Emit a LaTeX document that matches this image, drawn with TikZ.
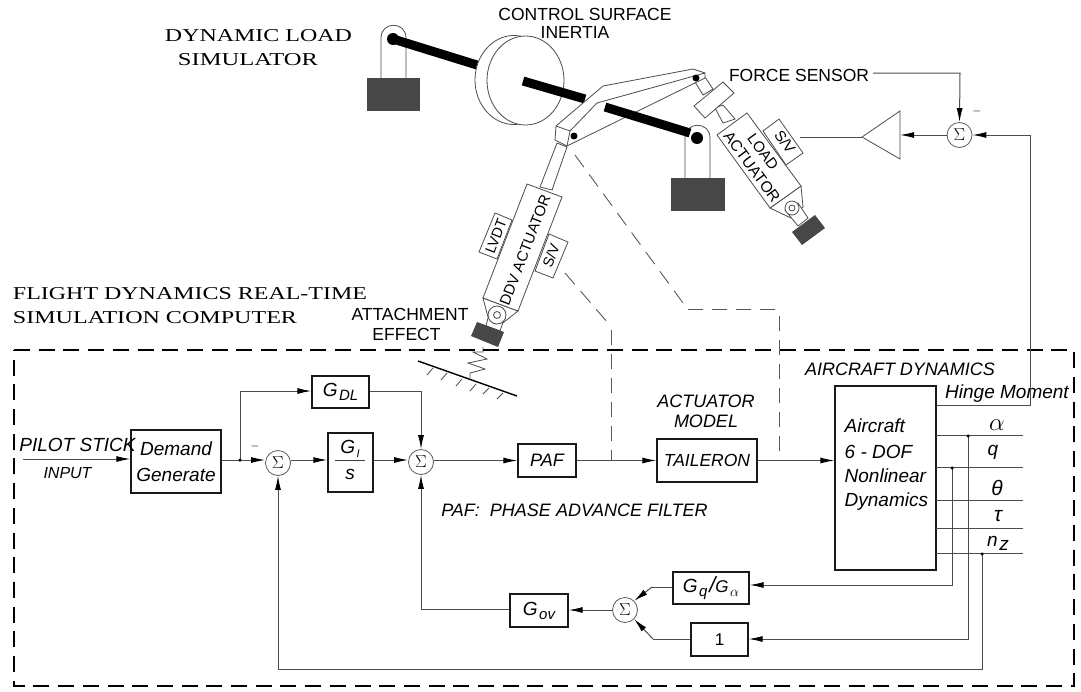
\documentclass[tikz,border=0pt]{standalone}
\usepackage{fontspec}
\usepackage{graphicx}
\setmainfont{Liberation Sans}
\newfontfamily\serifwide{Liberation Serif}
\usetikzlibrary{arrows.meta,calc}
\newcommand{\fz}[1]{\fontsize{#1}{#1}\selectfont}
\newcommand{\Gs}[2]{{\itshape\fz{19}#1\kern1.5pt\raisebox{-4pt}{\fz{15}#2}}}
\newcommand{\wide}[3]{\resizebox{#1pt}{#2pt}{\serifwide #3}}
\tikzset{
  wire/.style={draw=black!70,line width=1pt},
  sig/.style={wire,-{Latex[length=14pt,width=6pt,color=black]}},
  dashwire/.style={draw=black!65,line width=.9pt,dash pattern=on 15pt off 9pt},
  bx/.style={draw=black!90,line width=1.3pt,inner sep=0pt,align=center,anchor=center},
  sumn/.style={circle,draw=black!65,line width=.8pt,fill=white,minimum size=25pt,inner sep=0pt,font=\fz{18}},
  mech/.style={draw=black!70,line width=.8pt,fill=white},
  mechline/.style={draw=black!70,line width=.8pt},
  shaft/.style={draw=black,line width=9pt},
  weight/.style={fill=black!72},
  sf/.style={inner sep=0pt,font=\fz{17.5}},
  si/.style={inner sep=0pt,font=\fz{19}\itshape},
  rt/.style={inner sep=0pt,font=\fz{15}},
  frameline/.style={draw=black,line width=2.8pt,dash pattern=on 16pt off 8.7pt},
  dotn/.style={circle,fill=black,inner sep=0pt,minimum size=3.5pt}
}
\begin{document}
\begin{tikzpicture}[x=1pt,y=-1pt]
\useasboundingbox (0,0) rectangle (1081,691);
% ---------- mechanism: left clevis & inertia
\draw[mech] (381,78) -- (381,38) .. controls (381,21) and (406,21) .. (406,38) -- (406,78);
\fill[weight] (367,78) rectangle (420,111);
\draw[shaft] (393,39) -- (477,65);
\fill (393,39) circle (6pt);
\draw[mech] (514,80) ellipse [x radius=39pt,y radius=44.5pt];
\draw[mech] (525.5,80.5) ellipse [x radius=38.5pt,y radius=44.5pt];
\draw[shaft] (523,81) -- (585,99);
% right clevis
\draw[mech] (685,178) -- (685,138) .. controls (685,121) and (710,121) .. (710,138) -- (710,178);
\fill[weight] (671,178) rectangle (725,211);
% force sensor rods
\draw[mech] (695,82) -- (703,95) -- (713,89) -- (705,77) -- cycle;
\draw[mech] (715,108) -- (723,123) -- (735,119) -- (723,105) -- cycle;
\draw[mech] (723,82) -- (734,93) -- (705,118) -- (694,106) -- cycle;
% lever
\draw[mech] (556,126) -- (603,86) -- (693,69) -- (705,73) -- (705,78) -- (567,146) -- (555,140) -- cycle;
\draw[mechline] (556,126) -- (570,131) -- (567,146);
\draw[mechline] (570,131) -- (597,103) -- (705,73);
\draw[shaft] (605,107) -- (690,133);
\fill (697,138) circle (6pt);
\fill (574,136) circle (3.5pt);
\fill (696,78) circle (3.5pt);
% DDV actuator
\draw[mech] (557,143) -- (540,187) -- (552,190) -- (567,147) -- cycle;
\draw[mech] (483,298) -- (488,317) -- (499,326) -- (518,311) -- cycle;
\draw[mech] (488,318) -- (486,326) -- (500,331) -- (505,316) -- cycle;
\draw[mech] (497,315) circle (9pt);
\draw[mech] (497,315) circle (3.5pt);
\draw[mech] (527,184) -- (562,197) -- (518,311) -- (483,298) -- cycle;
\draw[mech] (495,213) -- (512,220) -- (497,259) -- (479,252) -- cycle;
\draw[mech] (549,234) -- (568,242) -- (553,278) -- (535,271) -- cycle;
\fill[weight] (477,322) -- (504,332) -- (498,347) -- (471,336) -- cycle;
\node[rt,rotate=68.9] (ddvtext) at (525,250) {DDV ACTUATOR};
\node[rt,rotate=68.9,font=\fz{14.5}] (lvdt) at (496,236) {LVDT};
\node[rt,rotate=68.9,font=\fz{14.5}] (sv1) at (551,256) {S/V};
% spring & ground
\draw[mechline] (483,347) -- (483,352) -- (473,352) -- (487,359) -- (468,363) -- (485,369) -- (470,373) -- (470,378);
\draw[draw=black,line width=1.4pt] (418,361) -- (517,396);
\foreach \a/\b/\c/\d in {433/368/427/375,447/373/441/380,462/379/456/386,476/384/470/391,489/388/483/394,503/393/497/399}
  \draw[mechline] (\a,\b) -- (\c,\d);
% Load actuator
\draw[mech] (801,186) -- (803,207) -- (791,218) -- (770,208) -- cycle;
\draw[mech] (785,210) -- (798,226) -- (808,218) -- (798,203) -- cycle;
\draw[mech] (792,208) circle (7pt);
\draw[mech] (792,208) circle (3pt);
\draw[mech] (747,113) -- (801,186) -- (770,208) -- (717,135) -- cycle;
\draw[mech] (779,119) -- (803,153) -- (786,165) -- (763,131) -- cycle;
\fill[weight] (815,215) -- (825,228) -- (802,245) -- (792,232) -- cycle;
\node[rt,rotate=-53.5] (loadt) at (763,152) {LOAD};
\node[rt,rotate=-53.5,font=\fz{15.5}] (actt) at (752,167) {ACTUATOR};
\node[rt,rotate=-53.5] (sv2) at (785,142) {S/V};
% ---------- titles
\node[inner sep=0pt] (t1) at (258.5,36) {\wide{187}{12}{DYNAMIC LOAD}};
\node[inner sep=0pt] (t2) at (248,60) {\wide{140}{12}{SIMULATOR}};
\node[inner sep=0pt] (t3) at (190,294) {\wide{354}{12}{FLIGHT DYNAMICS REAL-TIME}};
\node[inner sep=0pt] (t4) at (155,318) {\wide{284}{12}{SIMULATION COMPUTER}};
\node[sf] (csi1) at (585,14) {CONTROL SURFACE};
\node[sf] (csi2) at (575,32) {INERTIA};
\node[sf] (fs) at (799,75) {FORCE SENSOR};
\node[sf] (ae1) at (410,314) {ATTACHMENT};
\node[sf] (ae2) at (406.5,334) {EFFECT};
% ---------- frame
\coordinate (fa) at (14,350); \coordinate (fb) at (1074,350);
\coordinate (fc) at (1074,686); \coordinate (fd) at (14,686);
\draw[frameline] (fa) -- (fb) -- (fc) -- (fd) -- cycle;
% ---------- blocks
\node[bx,minimum width=90pt,minimum height=63pt,font=\fz{19}\itshape,execute at begin node={\setlength{\baselineskip}{26pt}}] (dem) at (176,461.5) {Demand\\Generate};
\node[bx,minimum width=57pt,minimum height=32pt] (gdl) at (340.5,392) {\Gs{G}{DL}};
\node[bx,minimum width=45pt,minimum height=59pt] (gi) at (350.5,462.5) {};
\node[inner sep=0pt] (gitop) at (350,449) {\Gs{G}{\fz{11}I}};
\node[inner sep=0pt,font=\fz{19}\itshape] (gibot) at (350,474) {s};
\coordinate (gil) at (335,460); \coordinate (gir) at (365,460);
\draw[draw=black!75,line width=.9pt] (gil) -- (gir);
\node[bx,minimum width=58pt,minimum height=33pt,font=\fz{18}\itshape] (paf) at (547,460.5) {PAF};
\node[bx,minimum width=100pt,minimum height=43pt,font=\fz{17.5}\itshape] (tail) at (707,460.5) {TAILERON};
\node[bx,minimum width=101pt,minimum height=184pt] (ac) at (885.5,478) {};
\node[bx,minimum width=76pt,minimum height=32pt] (gq) at (711,588) {\Gs{G}{q}\kern2pt{\itshape\fz{22}/}\Gs{\fz{17}G}{$\alpha$}};
\node[bx,minimum width=57pt,minimum height=33pt,font=\fz{17}] (one) at (719.5,639.5) {1};
\node[bx,minimum width=58pt,minimum height=33pt] (gov) at (539,610.5) {\Gs{G}{ov}};
\node[sumn] (s1) at (278,463) {$\Sigma$};
\node[sumn] (s2) at (421,462) {$\Sigma$};
\node[sumn] (s3) at (625,610) {$\Sigma$};
\node[sumn] (s4) at (959.5,135) {$\Sigma$};
\coordinate (trit) at (862,137); \coordinate (tria) at (900,111); \coordinate (trib) at (900,159);
\draw[mech] (trit) -- (tria) -- (trib) -- cycle;
% ---------- labels
\node[si] (pil) at (77.5,445) {PILOT STICK};
\node[si,font=\fz{16}\itshape] (inp) at (67.5,473) {INPUT};
\node[si,font=\fz{18}\itshape] (acm1) at (706,401) {ACTUATOR};
\node[si,font=\fz{18}\itshape] (acm2) at (706,421) {MODEL};
\node[si,font=\fz{18}\itshape] (acd) at (900,369) {AIRCRAFT DYNAMICS};
\node[si,font=\fz{19}\itshape] (hm) at (1007,394) {Hinge Moment};
\node[si,anchor=west] (a1) at (844.5,426) {Aircraft};
\node[si,anchor=west] (a2) at (844.5,452) {6 - DOF};
\node[si,anchor=west] (a3) at (844.5,476) {Nonlinear};
\node[si,anchor=west] (a4) at (844.5,502) {Dynamics};
\node[si,font=\fz{18}\itshape] (pfl) at (574.5,510) {PAF:\ \ PHASE ADVANCE FILTER};
\node[si,font=\fz{24}] (la) at (997,425) {$\alpha$};
\node[si] (lq) at (993,452) {q};
\node[si,font=\fz{21}\itshape] (lt) at (997,488) {θ};
\node[si,font=\fz{21}\itshape] (lu) at (998,516) {τ};
\node[inner sep=0pt] (ln) at (998,543) {\Gs{n}{\fz{19}z}};
\node[inner sep=0pt,text=black!60,font=\fz{12}] (m1) at (255,448) {–};
\node[inner sep=0pt,text=black!60,font=\fz{12}] (m2) at (977,113) {–};
% ---------- coordinates
\coordinate (inl) at (23,459);
\coordinate (j1) at (240,460);
\coordinate (j1u) at (240,391);
\coordinate (s2u) at (421,391);
\coordinate (g3a) at (652,587); \coordinate (g3b) at (653,639);
\coordinate (s3d) at (421,609);
\coordinate (hx) at (1030,405); \coordinate (hy) at (1030,135);
\coordinate (fs1) at (873,73); \coordinate (fs2) at (960,73);
\coordinate (svout) at (800,137);
\coordinate (da1) at (565,273); \coordinate (da2) at (608,323); \coordinate (da3) at (611,330); \coordinate (da4) at (611,461);
\coordinate (db1) at (575,155); \coordinate (db2) at (683,303); \coordinate (db3) at (688,309); \coordinate (db4) at (779,309); \coordinate (db5) at (779,316); \coordinate (db6) at (779,456);
\coordinate (yal) at (936,435); \coordinate (yalr) at (1023,435);
\coordinate (yq) at (936,467); \coordinate (yqr) at (1023,467);
\coordinate (yth) at (936,500); \coordinate (ythr) at (1023,500);
\coordinate (ytau) at (936,528); \coordinate (ytaur) at (1023,528);
\coordinate (ynz) at (936,553); \coordinate (ynzr) at (1023,553);
\coordinate (j2) at (968,436); \coordinate (j3) at (952,468); \coordinate (j4) at (982,554);
\coordinate (c2) at (952,585); \coordinate (c3) at (968,639); \coordinate (c4) at (982,669); \coordinate (c5) at (278,669);
% ---------- connectors
\draw[sig] (inl) -- (dem.west |- inl);
\draw[sig] (dem.east |- j1) -- (s1.west |- j1);
\draw[sig] (j1) -- (j1u) -- (gdl.west |- j1u);
\draw[sig] (gdl.east |- j1u) -- (s2u) -- (s2.north);
\draw[sig] (s1.east |- j1) -- (gi.west |- j1);
\draw[sig] (gi.east |- j1) -- (s2.west |- j1);
\draw[sig] (s2.east |- paf.west) -- (paf.west);
\draw[sig] (paf.east) -- (tail.west);
\draw[sig] (tail.east) -- (ac.west |- tail.east);
\draw[wire] (ac.east |- hx) -- (hx) -- (hy);
\draw[sig] (hy) -- (s4.east);
\draw[sig] (s4.west) -- (tria |- s4.west);
\draw[wire] (svout) -- (trit);
\draw[sig] (fs1) -- (fs2) -- (s4.north);
\draw[wire] (yal) -- (yalr);
\draw[wire] (yq) -- (yqr);
\draw[wire] (yth) -- (ythr);
\draw[wire] (ytau) -- (ytaur);
\draw[wire] (ynz) -- (ynzr);
\draw[sig] (j3) -- (c2) -- (gq.east |- c2);
\draw[sig] (j2) -- (c3) -- (one.east |- c3);
\draw[sig] (j4) -- (c4) -- (c5) -- (s1.south);
\draw[wire] (gq.west |- g3a) -- (g3a);
\draw[sig] (g3a) -- (s3.north east);
\draw[wire] (one.west |- g3b) -- (g3b);
\draw[sig] (g3b) -- (s3.south east);
\draw[sig] (s3.west) -- (gov.east |- s3.west);
\draw[wire] (gov.west |- s3d) -- (s3d);
\draw[sig] (s3d) -- (s2.south);
\draw[dashwire] (da1) -- (da2);
\draw[dashwire] (da3) -- (da4);
\draw[dashwire] (db1) -- (db2);
\draw[dashwire] (db3) -- (db4);
\draw[dashwire] (db5) -- (db6);
\node[dotn] at (j1) {}; \node[dotn] at (j2) {}; \node[dotn] at (j3) {}; \node[dotn] at (j4) {};
\end{tikzpicture}
\end{document}
